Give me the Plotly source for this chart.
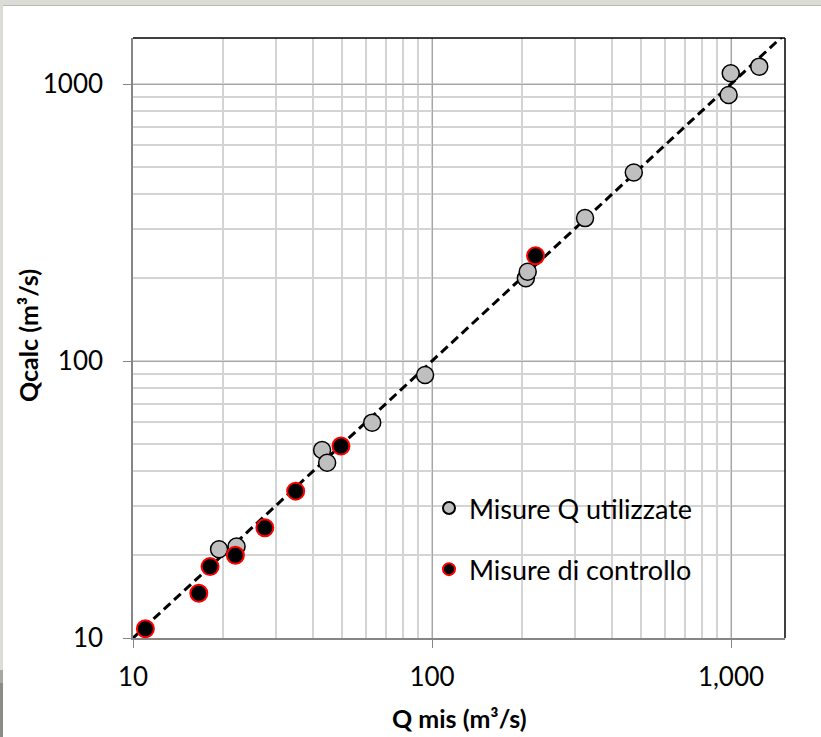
import plotly.graph_objects as go

# Data (m3/s)
used_qmis = [19.4, 22.2, 42.9, 44.6, 63.1, 94.8, 206, 209, 325, 473, 982, 998, 1243]
used_qcalc = [20.9, 21.4, 47.7, 42.9, 59.9, 89.0, 199, 210, 328, 479, 913, 1093, 1155]

ctrl_qmis = [11.0, 16.6, 18.1, 22.0, 27.6, 35.0, 49.6, 222]
ctrl_qcalc = [10.8, 14.5, 18.1, 19.9, 25.0, 33.9, 49.3, 240]

line_q = [10, 1600]

x_tickvals = [10, 100, 1000]
x_ticktext = ["10", "100", "1,000"]
y_tickvals = [10, 100, 1000]
y_ticktext = ["10", "100", "1000"]

FONT = "Lato"

fig = go.Figure()
fig.add_trace(go.Scatter(x=line_q, y=line_q, mode="lines",
                         line=dict(color="black", width=3, dash="9px,5px"),
                         showlegend=False, hoverinfo="skip"))
fig.add_trace(go.Scatter(x=used_qmis, y=used_qcalc, mode="markers",
                         name="Misure Q utilizzate", legendgroup="a",
                         marker=dict(size=17, color="#bfbfbf",
                                     line=dict(color="black", width=1.5))))
fig.add_trace(go.Scatter(x=ctrl_qmis, y=ctrl_qcalc, mode="markers",
                         name="Misure di controllo", legendgroup="b",
                         marker=dict(size=17, color="black",
                                     line=dict(color="red", width=2))))

L, R, T, B = 133, 785, 38, 638
W, H = 821, 737
pw, ph = R - L, B - T

def px(p):
    return (p - L) / pw

def py(p):
    return (B - p) / ph

axis_common = dict(
    type="log",
    showline=True, linecolor="#868686", linewidth=1.5,
    ticks="outside", ticklen=8, tickcolor="#868686", tickwidth=1,
    showgrid=True, gridcolor="#a6a6a6", gridwidth=1,
    tickfont=dict(family=FONT, size=26, color="black"),
    minor=dict(dtick="D1", showgrid=True, gridcolor="#d4d4d4", gridwidth=1.5, ticks=""),
    zeroline=False, mirror=False,
)

fig.update_layout(
    width=W, height=H,
    margin=dict(l=L, r=W - R, t=T, b=H - B),
    paper_bgcolor="white", plot_bgcolor="white",
    font=dict(family=FONT, color="black"),
    xaxis=dict(axis_common, range=[1, 1 + pw / 299.0],
               tickvals=x_tickvals, ticktext=x_ticktext, ticklabelstandoff=7),
    yaxis=dict(axis_common, range=[1, 1 + ph / 277.0],
               tickvals=y_tickvals, ticktext=y_ticktext, ticklabelstandoff=15),
    showlegend=True,
    legend=dict(x=px(429), y=py(484), xanchor="left", yanchor="top",
                bgcolor="rgba(0,0,0,0)", borderwidth=0,
                font=dict(family=FONT, size=27, color="black"),
                itemsizing="constant", tracegroupgap=23, traceorder="grouped"),
    annotations=[
        dict(text="<b>Q mis (m³/s)</b>", xref="paper", yref="paper",
             x=0.5, y=py(718), xanchor="center", yanchor="middle",
             showarrow=False, font=dict(family=FONT, size=25, color="black")),
        dict(text="<b>Qcalc (m³/s)</b>", xref="paper", yref="paper",
             x=px(28), y=py(336), xanchor="center", yanchor="middle",
             textangle=-90, showarrow=False,
             font=dict(family=FONT, size=25, color="black")),
    ],
    shapes=[
        # legend white box
        dict(type="rect", xref="paper", yref="paper", layer="between",
             x0=px(415), x1=px(731), y0=py(598), y1=py(478),
             fillcolor="white", line=dict(width=0)),
        # plot border top and right
        dict(type="line", xref="paper", yref="paper", x0=0, x1=1, y0=1, y1=1,
             line=dict(color="black", width=1.5)),
        dict(type="line", xref="paper", yref="paper", x0=1, x1=1, y0=0, y1=1,
             line=dict(color="black", width=1.5)),
        # window frame strips
        dict(type="rect", xref="paper", yref="paper", layer="above",
             x0=px(0), x1=px(W), y0=py(5), y1=py(0),
             fillcolor="#dcdcd6", line=dict(width=0)),
        dict(type="line", xref="paper", yref="paper",
             x0=px(0), x1=px(W), y0=py(5.5), y1=py(5.5),
             line=dict(color="#b8b8b2", width=1)),
        dict(type="rect", xref="paper", yref="paper", layer="above",
             x0=px(0), x1=px(3), y0=py(H), y1=py(0),
             fillcolor="#dcdcd6", line=dict(width=0)),
        dict(type="rect", xref="paper", yref="paper", layer="above",
             x0=px(0), x1=px(3), y0=py(683), y1=py(670),
             fillcolor="#a8a8a2", line=dict(width=0)),
        dict(type="rect", xref="paper", yref="paper", layer="above",
             x0=px(0), x1=px(3), y0=py(H), y1=py(683),
             fillcolor="#8c8c84", line=dict(width=0)),
    ],
)

fig.write_html("out.html")
